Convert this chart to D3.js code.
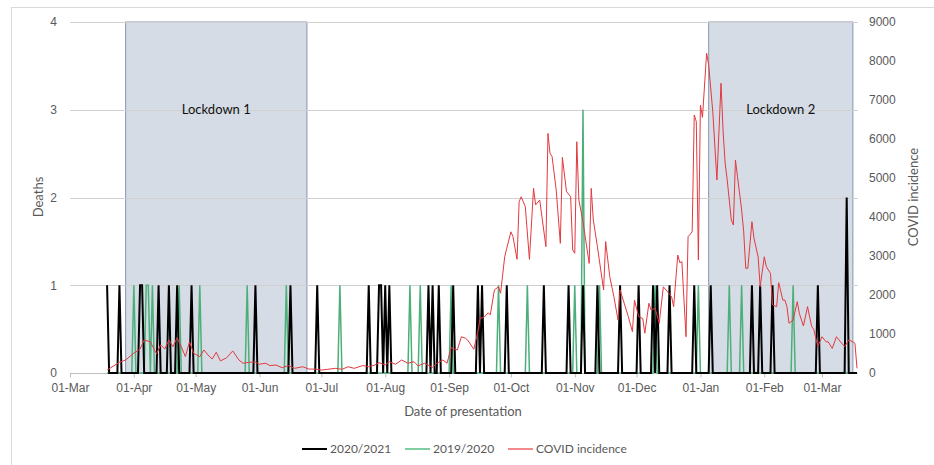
<!DOCTYPE html>
<html>
<head>
<meta charset="utf-8">
<script src="https://cdn.jsdelivr.net/npm/d3@7"></script>
<style>
  body { margin: 0; background: #fff; }
  svg { font-family: Lato, "Open Sans", sans-serif; }
  .tick text { fill: #595959; font-size: 12px; }
</style>
</head>
<body>
<div class="chart-container"></div>
<script>
// month tick positions and their labels
const monthTicks = ['2020-03-01', '2020-04-01', '2020-05-01', '2020-06-01', '2020-07-01', '2020-08-01',
  '2020-09-01', '2020-10-01', '2020-11-01', '2020-12-01', '2021-01-01', '2021-02-01', '2021-03-01'];
const tickLabels = ['01-Mar', '01-Apr', '01-May', '01-Jun', '01-Jul', '01-Aug',
  '01-Sep', '01-Oct', '01-Nov', '01-Dec', '01-Jan', '01-Feb', '01-Mar'];
const deathTicks = [0, 1, 2, 3, 4];
const covidTicks = [0, 1000, 2000, 3000, 4000, 5000, 6000, 7000, 8000, 9000];

const seriesStart = '2020-03-19';
const seriesEnd = '2021-03-18';

// days with deaths, 2020/2021 (all other days 0)
const deaths2021 = [
  ['2020-03-19', 1], ['2020-03-25', 1], ['2020-04-04', 1], ['2020-04-05', 1], ['2020-04-13', 1],
  ['2020-04-18', 1], ['2020-04-22', 1], ['2020-04-29', 1], ['2020-05-30', 1], ['2020-06-16', 1],
  ['2020-06-29', 1], ['2020-07-24', 1], ['2020-07-29', 1], ['2020-07-30', 1], ['2020-08-01', 1],
  ['2020-08-03', 1], ['2020-08-22', 1], ['2020-08-24', 1], ['2020-08-27', 1], ['2020-09-03', 1],
  ['2020-09-15', 1], ['2020-09-17', 1], ['2020-09-29', 1], ['2020-10-17', 1], ['2020-10-29', 1],
  ['2020-11-05', 1], ['2020-11-12', 1], ['2020-11-23', 1], ['2020-12-02', 1], ['2020-12-09', 1],
  ['2020-12-11', 1], ['2020-12-17', 1], ['2020-12-29', 1], ['2021-01-06', 1], ['2021-01-26', 1],
  ['2021-01-30', 1], ['2021-02-05', 1], ['2021-02-27', 1], ['2021-03-13', 2]
];

// days with deaths, 2019/2020 (same calendar days, all other days 0)
const deaths1920 = [
  ['2020-04-01', 1], ['2020-04-07', 1], ['2020-04-08', 1], ['2020-04-10', 1], ['2020-04-23', 1],
  ['2020-05-03', 1], ['2020-05-26', 1], ['2020-06-14', 1], ['2020-07-10', 1], ['2020-08-13', 1],
  ['2020-08-18', 1], ['2020-09-02', 1], ['2020-09-25', 1], ['2020-10-09', 1], ['2020-11-01', 1],
  ['2020-11-05', 3], ['2020-11-13', 1], ['2020-12-10', 1], ['2020-12-31', 1], ['2021-01-15', 1],
  ['2021-01-21', 1], ['2021-02-15', 1]
];

// COVID incidence
const covidIncidence = [
  ['2020-03-19', 75], ['2020-03-25', 275], ['2020-03-28', 333], ['2020-04-01', 510], ['2020-04-04', 615],
  ['2020-04-06', 846], ['2020-04-09', 800], ['2020-04-12', 490], ['2020-04-14', 720], ['2020-04-16', 615],
  ['2020-04-18', 846], ['2020-04-20', 675], ['2020-04-22', 905], ['2020-04-24', 675], ['2020-04-26', 420],
  ['2020-04-28', 800], ['2020-04-30', 505], ['2020-05-03', 420], ['2020-05-05', 590], ['2020-05-07', 460],
  ['2020-05-09', 360], ['2020-05-11', 530], ['2020-05-13', 310], ['2020-05-16', 390], ['2020-05-19', 565],
  ['2020-05-22', 333], ['2020-05-24', 250], ['2020-05-27', 275], ['2020-05-30', 280], ['2020-06-01', 225],
  ['2020-06-04', 250], ['2020-06-06', 190], ['2020-06-09', 205], ['2020-06-12', 135], ['2020-06-15', 190],
  ['2020-06-18', 120], ['2020-06-22', 160], ['2020-06-25', 100], ['2020-06-28', 100], ['2020-07-01', 75],
  ['2020-07-04', 95], ['2020-07-08', 120], ['2020-07-11', 95], ['2020-07-14', 160], ['2020-07-17', 120],
  ['2020-07-21', 190], ['2020-07-24', 160], ['2020-07-27', 205], ['2020-07-29', 265], ['2020-08-01', 205],
  ['2020-08-03', 290], ['2020-08-06', 225], ['2020-08-09', 333], ['2020-08-12', 250], ['2020-08-15', 290],
  ['2020-08-17', 180], ['2020-08-20', 250], ['2020-08-24', 145], ['2020-08-26', 250], ['2020-08-29', 333],
  ['2020-08-31', 250], ['2020-09-02', 650], ['2020-09-05', 590], ['2020-09-07', 930], ['2020-09-09', 890],
  ['2020-09-10', 846], ['2020-09-13', 610], ['2020-09-15', 1060], ['2020-09-16', 1400], ['2020-09-18', 1430],
  ['2020-09-20', 1545], ['2020-09-21', 1490], ['2020-09-23', 2130], ['2020-09-25', 2210], ['2020-09-26', 2045],
  ['2020-09-28', 2980], ['2020-09-29', 3200], ['2020-10-01', 3620], ['2020-10-02', 3500], ['2020-10-04', 2915],
  ['2020-10-05', 4390], ['2020-10-06', 4520], ['2020-10-08', 4265], ['2020-10-10', 2915], ['2020-10-12', 4735],
  ['2020-10-13', 4310], ['2020-10-15', 4435], ['2020-10-18', 3240], ['2020-10-19', 6145], ['2020-10-20', 5630],
  ['2020-10-21', 5550], ['2020-10-23', 4690], ['2020-10-25', 3325], ['2020-10-26', 5530], ['2020-10-28', 4650],
  ['2020-10-30', 4520], ['2020-10-31', 3155], ['2020-11-01', 3070], ['2020-11-02', 5930], ['2020-11-03', 4435],
  ['2020-11-05', 3880], ['2020-11-08', 2810], ['2020-11-09', 4735], ['2020-11-10', 3925], ['2020-11-12', 3240],
  ['2020-11-15', 2130], ['2020-11-16', 3370], ['2020-11-18', 2470], ['2020-11-20', 1955], ['2020-11-22', 1360],
  ['2020-11-23', 2130], ['2020-11-25', 1790], ['2020-11-27', 1445], ['2020-11-29', 1060], ['2020-11-30', 1870],
  ['2020-12-02', 1445], ['2020-12-04', 1400], ['2020-12-05', 1020], ['2020-12-07', 1790], ['2020-12-08', 1615],
  ['2020-12-10', 1660], ['2020-12-12', 1275], ['2020-12-14', 2210], ['2020-12-16', 2085], ['2020-12-18', 1955],
  ['2020-12-19', 1700], ['2020-12-21', 3025], ['2020-12-22', 2830], ['2020-12-23', 2855], ['2020-12-25', 930],
  ['2020-12-26', 3495], ['2020-12-28', 3620], ['2020-12-29', 6615], ['2020-12-30', 6445], ['2020-12-31', 2900],
  ['2021-01-01', 6870], ['2021-01-02', 6555], ['2021-01-04', 8200], ['2021-01-05', 7900], ['2021-01-07', 6700],
  ['2021-01-09', 4950], ['2021-01-11', 7430], ['2021-01-12', 6200], ['2021-01-13', 5380], ['2021-01-14', 4950],
  ['2021-01-16', 3925], ['2021-01-17', 3795], ['2021-01-18', 5460], ['2021-01-19', 5035], ['2021-01-21', 4180],
  ['2021-01-22', 3620], ['2021-01-23', 2685], ['2021-01-24', 2685], ['2021-01-26', 3880], ['2021-01-27', 3455],
  ['2021-01-29', 2980], ['2021-01-30', 2210], ['2021-02-01', 2980], ['2021-02-02', 2725], ['2021-02-04', 2555],
  ['2021-02-05', 1745], ['2021-02-07', 1700], ['2021-02-08', 2315], ['2021-02-10', 1870], ['2021-02-11', 1870],
  ['2021-02-12', 1700], ['2021-02-13', 1275], ['2021-02-15', 1360], ['2021-02-17', 1830], ['2021-02-18', 1530],
  ['2021-02-20', 1205], ['2021-02-22', 1700], ['2021-02-24', 1190], ['2021-02-25', 1120], ['2021-02-27', 675],
  ['2021-03-01', 930], ['2021-03-03', 800], ['2021-03-04', 800], ['2021-03-06', 630], ['2021-03-08', 930],
  ['2021-03-10', 800], ['2021-03-12', 675], ['2021-03-14', 846], ['2021-03-16', 800], ['2021-03-17', 760],
  ['2021-03-18', 120]
];

const lockdowns = [
  { label: 'Lockdown 1', start: '2020-03-28', end: '2020-06-24' },
  { label: 'Lockdown 2', start: '2021-01-05', end: '2021-03-16' }
];

const parse = d3.utcParse('%Y-%m-%d');
const W = 934, H = 465;
const plot = { left: 70, right: 857, top: 22, bottom: 373 };

const svg = d3.select('.chart-container')
  .append('svg')
  .attr('width', W)
  .attr('height', H);

// outer frame
svg.append('rect')
  .attr('x', 11.5).attr('y', 7.5)
  .attr('width', 940).attr('height', 480)
  .attr('fill', 'none')
  .attr('stroke', '#d9d9d9');

const x = d3.scaleUtc()
  .domain([parse('2020-03-01'), parse('2021-03-18')])
  .range([plot.left, plot.right]);

const yL = d3.scaleLinear().domain([0, 4]).range([plot.bottom, plot.top]);
const yR = d3.scaleLinear().domain([0, 9000]).range([plot.bottom, plot.top]);

// lockdown boxes
svg.append('g')
  .selectAll('rect')
  .data(lockdowns)
  .enter().append('rect')
  .attr('x', d => x(parse(d.start)))
  .attr('y', yL(4))
  .attr('width', d => x(parse(d.end)) - x(parse(d.start)))
  .attr('height', yL(0) - yL(4))
  .attr('fill', '#d6dce5')
  .attr('stroke', '#8497b0')
  .attr('stroke-width', 1);

// gridlines
svg.append('g')
  .selectAll('line')
  .data(deathTicks.slice(1))
  .enter().append('line')
  .attr('x1', plot.left).attr('x2', plot.right + 1)
  .attr('y1', d => Math.round(yL(d)) + 0.5)
  .attr('y2', d => Math.round(yL(d)) + 0.5)
  .attr('stroke', '#d0d0d0')
  .attr('stroke-width', 1);

svg.append('g')
  .selectAll('text')
  .data(lockdowns)
  .enter().append('text')
  .attr('x', d => (x(parse(d.start)) + x(parse(d.end))) / 2)
  .attr('y', yL(3))
  .attr('dy', '0.35em')
  .attr('text-anchor', 'middle')
  .attr('font-size', '13px')
  .attr('fill', '#111')
  .text(d => d.label);

// x axis
const xAxis = svg.append('g')
  .attr('transform', `translate(0,${Math.round(plot.bottom) + 0.5})`)
  .call(d3.axisBottom(x)
    .tickValues(monthTicks.map(parse))
    .tickFormat((d, i) => tickLabels[i])
    .tickSize(4)
    .tickPadding(6));
xAxis.select('.domain').attr('stroke', '#bfbfbf').attr('d', `M${plot.left},0H${plot.right + 1}`);
xAxis.selectAll('.tick line').attr('stroke', '#bfbfbf');

// left axis
const lAxis = svg.append('g')
  .attr('transform', `translate(${plot.left},0)`)
  .call(d3.axisLeft(yL).tickValues(deathTicks).tickFormat(d3.format('d')).tickSize(0).tickPadding(13));
lAxis.select('.domain').remove();

// right axis
const rAxis = svg.append('g')
  .attr('transform', `translate(${plot.right},0)`)
  .call(d3.axisRight(yR).tickValues(covidTicks).tickFormat(d3.format('d')).tickSize(0).tickPadding(12));
rAxis.select('.domain').remove();

// daily death series built from the listed days
const days = d3.utcDay.range(parse(seriesStart), d3.utcDay.offset(parse(seriesEnd), 1));
function daily(list) {
  const m = new Map(list.map(d => [d[0], d[1]]));
  return days.map(d => ({ date: d, value: m.get(d3.utcFormat('%Y-%m-%d')(d)) || 0 }));
}

const deathLine = d3.line()
  .x(d => x(d.date))
  .y(d => yL(d.value));

svg.append('path')
  .datum(daily(deaths1920))
  .attr('d', deathLine)
  .attr('fill', 'none')
  .attr('stroke', '#4caf7a')
  .attr('stroke-width', 1.5);

svg.append('path')
  .datum(daily(deaths2021))
  .attr('d', deathLine)
  .attr('fill', 'none')
  .attr('stroke', '#000')
  .attr('stroke-width', 2)
  .attr('stroke-linejoin', 'miter');

svg.append('path')
  .datum(covidIncidence)
  .attr('d', d3.line().x(d => x(parse(d[0]))).y(d => yR(d[1])))
  .attr('fill', 'none')
  .attr('stroke', '#e2393f')
  .attr('stroke-width', 1);

// axis titles
svg.append('text')
  .attr('transform', 'translate(38,197) rotate(-90)')
  .attr('text-anchor', 'middle')
  .attr('dy', '0.35em')
  .attr('font-size', '13px')
  .attr('fill', '#595959')
  .text('Deaths');

svg.append('text')
  .attr('transform', 'translate(913,197) rotate(-90)')
  .attr('text-anchor', 'middle')
  .attr('dy', '0.35em')
  .attr('font-size', '13px')
  .attr('fill', '#595959')
  .text('COVID incidence');

svg.append('text')
  .attr('x', 463)
  .attr('y', 411)
  .attr('dy', '0.35em')
  .attr('text-anchor', 'middle')
  .attr('font-size', '13px')
  .attr('fill', '#595959')
  .text('Date of presentation');

// legend
const legend = [
  { name: '2020/2021', color: '#000', x: 302 },
  { name: '2019/2020', color: '#7dcfa0', x: 405 },
  { name: 'COVID incidence', color: '#f08a8c', x: 508 }
];
const lg = svg.append('g').selectAll('g')
  .data(legend)
  .enter().append('g')
  .attr('transform', d => `translate(${d.x},449)`);
lg.append('line')
  .attr('x1', 0).attr('x2', 25)
  .attr('stroke', d => d.color)
  .attr('stroke-width', 2);
lg.append('text')
  .attr('x', 28)
  .attr('dy', '0.35em')
  .attr('font-size', '12px')
  .attr('fill', '#595959')
  .text(d => d.name);
</script>
</body>
</html>
